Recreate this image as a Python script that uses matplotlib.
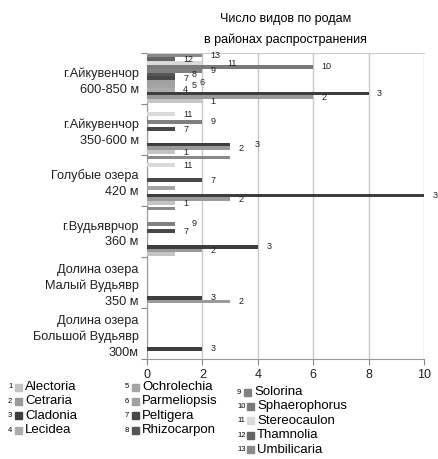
import numpy as np
import matplotlib
matplotlib.use('Agg')
import matplotlib.pyplot as plt
from matplotlib.patches import Rectangle

plt.rcParams['font.family'] = ['Liberation Sans', 'DejaVu Sans']

# data
places = ['г.Айкувенчор\n600-850 м', 'г.Айкувенчор\n350-600 м', 'Голубые озера\n420 м',
          'г.Вудьяврчор\n360 м', 'Долина озера\nМалый Вудьявр\n350 м',
          'Долина озера\nБольшой Вудьявр\n300м']
genera = ['Alectoria', 'Cetraria', 'Cladonia', 'Lecidea', 'Ochrolechia', 'Parmeliopsis',
          'Peltigera', 'Rhizocarpon', 'Solorina', 'Sphaerophorus', 'Stereocaulon',
          'Thamnolia', 'Umbilicaria']
alectoria = [2, 1, 1, 1, 0, 0]
cetraria = [6, 3, 3, 2, 3, 0]
cladonia = [8, 3, 10, 4, 2, 2]
lecidea = [1, 0, 0, 0, 0, 0]
ochrolechia = [1, 0, 1, 0, 0, 0]
parmeliopsis = [1, 0, 0, 0, 0, 0]
peltigera = [1, 1, 2, 1, 0, 0]
rhizocarpon = [1, 0, 0, 0, 0, 0]
solorina = [2, 2, 0, 1, 0, 0]
sphaerophorus = [6, 0, 0, 0, 0, 0]
stereocaulon = [2, 1, 1, 0, 0, 0]
thamnolia = [1, 0, 0, 0, 0, 0]
umbilicaria = [2, 0, 3, 1, 0, 0]
series = [alectoria, cetraria, cladonia, lecidea, ochrolechia, parmeliopsis, peltigera,
          rhizocarpon, solorina, sphaerophorus, stereocaulon, thamnolia, umbilicaria]
# (place, series number) pairs whose label is not shown in the original
no_label = {(2, 13), (2, 5), (3, 13), (3, 1)}

colors = ['#c4c4c4', '#9a9a9a', '#3e3e3e', '#ababab', '#a4a4a4', '#a0a0a0', '#484848',
          '#555555', '#808080', '#7a7a7a', '#dadada', '#646464', '#8a8a8a']

fig = plt.figure(figsize=(4.39, 4.59), dpi=100)
ax = fig.add_axes([0.335, 0.218, 0.631, 0.667])

n = len(series)
h = 0.97 / n
y0 = np.arange(len(places))
for k, vals in enumerate(series):
    ypos = y0 + (n / 2 - 0.5 - k) * h
    ax.barh(ypos, vals, height=h, color=colors[k], linewidth=0, zorder=3)

# series number labels next to bars, shifted right when they would collide
for g in range(len(places)):
    placed = []
    for k, vals in enumerate(series):
        v = vals[g]
        if v == 0 or (g, k + 1) in no_label:
            continue
        y = g + (n / 2 - 0.5 - k) * h
        x = v + 0.3
        while any(abs(y - py) < 2.2 * h and abs(x - px) < 0.3 for px, py in placed):
            x += 0.3
        placed.append((x, y))
        ax.text(x, y, str(k + 1), fontsize=6.5, va='center', ha='left', color='#222222',
                zorder=4, clip_on=False)

ax.set_xlim(0, 10)
ax.set_ylim(len(places) - 0.5, -0.5)
ax.set_xticks(range(0, 11, 2))
ax.tick_params(axis='x', labelsize=9, colors='#888888', labelcolor='#222222', length=4)
ax.set_yticks(np.arange(-0.5, len(places), 1))
ax.set_yticklabels([])
ax.set_yticks(y0, minor=True)
ax.set_yticklabels(places, minor=True, fontsize=9.2, linespacing=1.4, color='#222222')
ax.tick_params(axis='y', which='major', length=4, colors='#888888')
ax.tick_params(axis='y', which='minor', length=0, pad=6)
ax.grid(axis='x', color='#c8c8c8', linewidth=1, zorder=0)
for s in ['left', 'bottom']:
    ax.spines[s].set_color('#999999')
ax.spines['top'].set_color('#cccccc')
ax.spines['right'].set_visible(False)

fig.text(0.65, 0.958, 'Число видов по родам', ha='center', va='center', fontsize=9)
fig.text(0.65, 0.914, 'в районах распространения', ha='center', va='center', fontsize=9)

# legend drawn by hand, three columns
cols = [(0, 4, 8, 387), (4, 8, 125, 387), (8, 13, 237, 392)]
W, H = 439, 459
for a, b, xn, ytop in cols:
    for i, k in enumerate(range(a, b)):
        y = ytop + i * 14.4
        fig.text(xn / W, 1 - y / H, str(k + 1), fontsize=5.5, ha='left', va='center')
        xs = xn + (7 if k < 9 else 10)
        fig.patches.append(Rectangle((xs / W, 1 - (y + 3.5) / H), 7 / W, 7 / H,
                                     transform=fig.transFigure, color=colors[k]))
        fig.text((xs + 10) / W, 1 - y / H, genera[k], fontsize=9.5, ha='left', va='center')

fig.savefig('out.png', dpi=100)
